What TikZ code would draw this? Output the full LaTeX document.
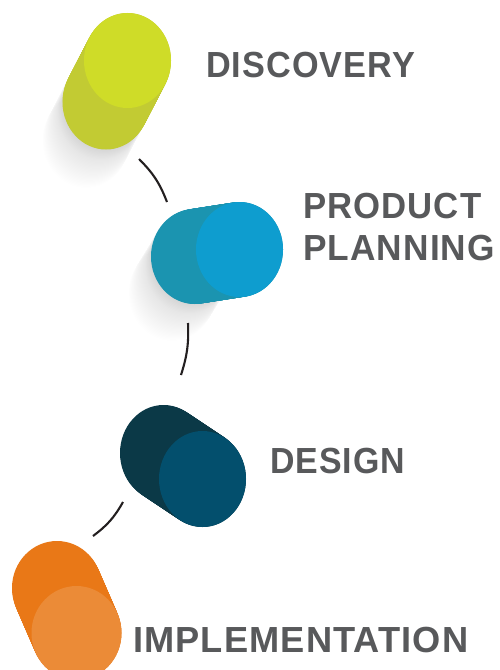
\documentclass[tikz,border=0pt]{standalone}
\usepackage{fontspec}
\setmainfont{Liberation Sans}
\newfontfamily\labelfont{Liberation Sans}[FakeStretch=0.92,LetterSpace=2.8]
\usepackage{graphicx}
\usetikzlibrary{calc}

\definecolor{lime}{HTML}{CFDC28}
\definecolor{limedark}{HTML}{C2CB33}
\definecolor{sky}{HTML}{0E9DCF}
\definecolor{skydark}{HTML}{1B94B0}
\definecolor{petrol}{HTML}{034F6D}
\definecolor{petroldark}{HTML}{0B3947}
\definecolor{tangerine}{HTML}{EB8B37}
\definecolor{tangerinedark}{HTML}{E97817}
\definecolor{labelgray}{HTML}{58595B}
\definecolor{ink}{HTML}{231F20}

\tikzset{
  steplabel/.style={inner sep=0pt, anchor=base west, text=labelgray,
    font=\labelfont\bfseries\fontsize{36.3}{42}\selectfont},
  link/.style={draw=ink, line width=2.1pt},
}

% capsule: #1 back centre, #2 front centre, #3/#4 radii, #5 body colour, #6 face colour
\newcommand\capsule[6]{%
  \foreach \t in {0,0.02,...,1.001}
    \fill[#5] ($(#1)!\t!(#2)$) ellipse [x radius=#3, y radius=#4];
  \fill[#6] (#2) ellipse [x radius=#3, y radius=#4];
}
% soft trailing shadow from #1 to #2
\newcommand\trail[4]{%
  \foreach \i in {0,...,40}{
    \pgfmathsetmacro\t{\i/40}
    \pgfmathsetmacro\op{0.0065*(1-\t)+0.0008}
    \fill[black, fill opacity=\op] ($(#1)!\t!(#2)$) ellipse [x radius=#3, y radius=#4];
  }
}
% horizontally widened label text
\newcommand\wide[2]{\scalebox{#1}[1]{#2}}

\begin{document}
\begin{tikzpicture}[x=1pt, y=-1pt]
  \clip (0,0) rectangle (500,670);
  \fill[white] (0,0) rectangle (500,670);

  % centres of the end faces
  \coordinate (b1) at (106,102);   \coordinate (f1) at (127.5,60.5);
  \coordinate (s1) at (81,150);
  \coordinate (b2) at (194.5,256.5); \coordinate (f2) at (239.5,249.5);
  \coordinate (s2) at (166.5,302.5);
  \coordinate (b3) at (163.5,453);  \coordinate (f3) at (202.5,479);
  \coordinate (b4) at (57,588);     \coordinate (f4) at (76.5,633);

  % shadows
  \trail{b1}{s1}{43.5}{47.5}
  \trail{b2}{s2}{43.5}{47.5}

  % capsules
  \capsule{b1}{f1}{43.5}{47.5}{limedark}{lime}
  \capsule{b2}{f2}{43.5}{47.5}{skydark}{sky}
  \capsule{b3}{f3}{43.5}{48}{petroldark}{petrol}
  \capsule{b4}{f4}{45}{47}{tangerinedark}{tangerine}

  % connecting arcs
  \coordinate (a1) at (139,159);  \coordinate (a2) at (167,202);
  \coordinate (a3) at (188,323);  \coordinate (a4) at (181,375);
  \coordinate (a5) at (123,502);  \coordinate (a6) at (93,536);
  \draw[link] (a1) to[bend left=12] (a2);
  \draw[link] (a3) to[bend left=10] (a4);
  \draw[link] (a5) to[bend left=12] (a6);

  % labels
  \node[steplabel] (discovery) at (206,77) {\wide{1.025}{DISCOVERY}};
  \node[steplabel] (product) at (303,218) {\wide{1.04}{PRODUCT}};
  \node[steplabel] (planning) at (303,260) {\wide{1.056}{PLANNING}};
  \node[steplabel] (design) at (270,473) {\wide{1.015}{DESIGN}};
  \node[steplabel] (implementation) at (133,652) {\wide{1.085}{IMPLEMENTATION}};
\end{tikzpicture}
\end{document}
